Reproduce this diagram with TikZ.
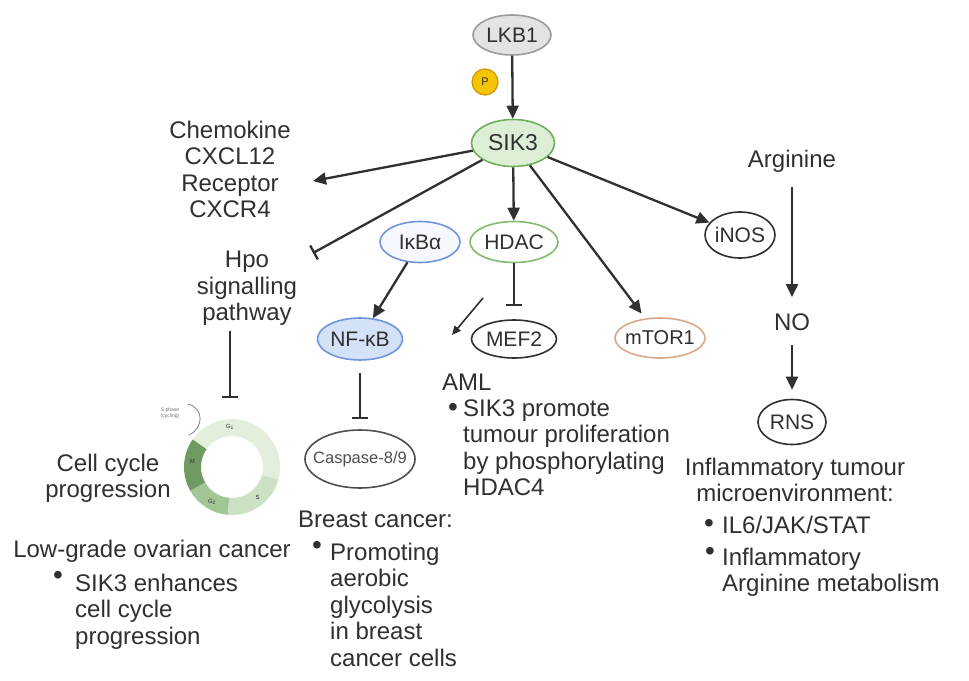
\documentclass[tikz,border=0pt]{standalone}
\usepackage{fontspec}
\setmainfont{Liberation Sans}
\usetikzlibrary{shapes.geometric,arrows.meta}
\definecolor{txt}{HTML}{303030}
\definecolor{lkbfill}{HTML}{E3E3E3}
\definecolor{lkbline}{HTML}{9A9A9A}
\definecolor{sikfill}{HTML}{DCEFD6}
\definecolor{sikline}{HTML}{6FAE5A}
\definecolor{bluefill}{HTML}{D3E2F6}
\definecolor{blueline}{HTML}{7195DA}
\definecolor{paleblue}{HTML}{F5F8FE}
\definecolor{greenline}{HTML}{82BA6E}
\definecolor{mtorline}{HTML}{D9A888}
\definecolor{pfill}{HTML}{F5C400}
\definecolor{pline}{HTML}{D39400}
\definecolor{gone}{HTML}{E4EEDD}
\definecolor{sphase}{HTML}{CDE1C5}
\definecolor{gtwo}{HTML}{A3C596}
\definecolor{mphase}{HTML}{6F9A61}

\begin{document}
\begin{tikzpicture}[x=1pt,y=-1pt,
	ell/.style={ellipse, draw=txt, line width=1.6pt, inner xsep=-8pt, inner ysep=0pt, text=txt, font=\fontsize{21}{21}\selectfont},
	lbl/.style={inner sep=0pt, text=txt, font=\fontsize{24}{26.5}\selectfont},
	bul/.style={inner sep=0pt, text=txt, font=\fontsize{28}{28}\selectfont},
	act/.style={draw=txt, line width=2.3pt, -{Triangle[length=13pt,width=12pt]}},
	inhib/.style={draw=txt, line width=2.3pt, -{Bar[width=16pt]}},
	phase/.style={text=txt, inner sep=0pt, font=\fontsize{6}{6}\selectfont}]
		%%%%% START %%%%%
		\path[use as bounding box, fill=white] (0,0) rectangle (969,680);
		
		% kinases and targets
		\node[ell, fill=lkbfill, draw=lkbline, minimum width=78pt, minimum height=40pt] (lkb1) at (512,35) {LKB1};
		\node[circle, fill=pfill, draw=pline, line width=1.2pt, minimum size=26pt, inner sep=0pt, text=txt, font=\fontsize{11}{11}\selectfont] (phos) at (485,82) {P};
		\node[ell, fill=sikfill, draw=sikline, minimum width=83pt, minimum height=47pt, font=\fontsize{23}{23}\selectfont] (sik3) at (513,143) {SIK3};
		\node[ell, fill=paleblue, draw=blueline, minimum width=80pt, minimum height=41pt] (ikba) at (420,242) {IκBα};
		\node[ell, fill=white, draw=greenline, minimum width=88pt, minimum height=41pt] (hdac) at (514,242) {HDAC};
		\node[ell, fill=bluefill, draw=blueline, minimum width=85pt, minimum height=42pt] (nfkb) at (360,339) {NF-κB};
		\node[ell, fill=white, minimum width=85pt, minimum height=38pt] (mef2) at (514,339) {MEF2};
		\node[ell, fill=white, draw=mtorline, minimum width=90pt, minimum height=40pt, font=\fontsize{20}{20}\selectfont] (mtor) at (660,338) {mTOR1};
		\node[ell, fill=white, minimum width=70pt, minimum height=46pt] (inos) at (740,235) {iNOS};
		\node[ell, fill=white, minimum width=68pt, minimum height=45pt] (rns) at (792,422) {RNS};
		\node[ell, fill=white, draw=txt!85, minimum width=110pt, minimum height=58pt, text=txt!85, font=\fontsize{16.5}{16.5}\selectfont] (casp) at (360,459) {Caspase-8/9};
		
		% plain labels
		\node[lbl, align=center, anchor=north] (chem) at (230,120.5) {Chemokine\\CXCL12\\Receptor\\CXCR4};
		\node[lbl, align=center, anchor=north] (hpo) at (247,251) {Hpo\\signalling\\pathway};
		\node[lbl, align=center, anchor=north] (cyc) at (108,453.5) {Cell cycle\\progression};
		\node[lbl, anchor=base] (arg) at (792,167) {Arginine};
		\node[lbl, anchor=base] (no) at (792,330) {NO};
		
		% disease notes
		\node[lbl, anchor=base] (ovar) at (152,557) {Low-grade ovarian cancer};
		\node[bul] (ovarb) at (58,578) {\textbullet};
		\node[lbl, align=left, anchor=north west] (ovart) at (75,573.5) {SIK3 enhances\\cell cycle\\progression};
		\node[lbl, anchor=base west] (breast) at (298,527) {Breast cancer:};
		\node[bul] (breastb) at (317,548) {\textbullet};
		\node[lbl, align=left, anchor=north west] (breastt) at (330,542.5) {Promoting\\aerobic\\glycolysis\\in breast\\cancer cells};
		\node[lbl, anchor=base west] (aml) at (442,390) {AML};
		\node[bul] (amlb) at (453,410) {\textbullet};
		\node[lbl, align=left, anchor=north west] (amlt) at (463,399.5) {SIK3 promote\\tumour proliferation\\by phosphorylating\\HDAC4};
		\node[lbl, align=center, anchor=north] (infl) at (795,457.5) {Inflammatory tumour\\microenvironment:};
		\node[bul] (il6b) at (709,526) {\textbullet};
		\node[lbl, anchor=base west] (il6) at (722,533) {IL6/JAK/STAT};
		\node[bul] (argb) at (710,554) {\textbullet};
		\node[lbl, align=left, anchor=north west] (argm) at (722,547.5) {Inflammatory\\Arginine metabolism};
		
		% cell cycle ring
		\begin{scope}[shift={(232,467)}, y=1pt]
			\fill[gone] (-15:48) arc (-15:145:48) -- (145:31) arc (145:-15:31) -- cycle;
			\fill[mphase] (145:48) arc (145:210:48) -- (210:31) arc (210:145:31) -- cycle;
			\fill[gtwo] (210:48) arc (210:265:48) -- (265:31) arc (265:210:31) -- cycle;
			\fill[sphase] (265:48) arc (265:345:48) -- (345:31) arc (345:265:31) -- cycle;
			\node[phase] at (93:40) {G\textsubscript{1}};
			\node[phase] at (310:40) {S};
			\node[phase] at (240:40) {G\textsubscript{2}};
			\node[phase] at (172:40) {M};
		\end{scope}
		\node[text=txt!70, inner sep=0pt, align=center, font=\fontsize{5}{5.5}\selectfont] (sph) at (170,413) {S phase\\(cycling)};
		\draw[txt!60, line width=0.8pt] (188,404) .. controls (204,408) and (204,428) .. (189,435);
		
		% connectors
		\coordinate (chemin) at (313,181);
		\coordinate (hpoin) at (313,253);
		\coordinate (ringtop) at (230,398);
		\coordinate (amlfrom) at (483,298);
		\coordinate (amlto) at (452,335);
		
		\draw[act] (lkb1) -- (sik3);
		\draw[act] (sik3) -- (chemin);
		\draw[inhib] (sik3) -- (hpoin);
		\draw[act] (sik3) -- (hdac);
		\draw[act, shorten >=6pt] (sik3) -- (mtor);
		\draw[act] (sik3) -- (inos);
		\draw[act] (ikba) -- (nfkb);
		\draw[inhib, shorten >=13pt] (hdac) -- (mef2);
		\draw[draw=txt, line width=1.6pt, -{Triangle[length=9pt,width=8pt]}] (amlfrom) -- (amlto);
		\draw[inhib, shorten <=12pt, shorten >=10pt] (nfkb) -- (casp);
		\draw[inhib, shorten <=5pt] (hpo.south -| ringtop) -- (ringtop);
		\draw[act, shorten <=15pt, shorten >=16pt] (arg) -- (no);
		\draw[act, shorten <=15pt, shorten >=9pt] (no) -- (rns);
		%%%%% END %%%%%
	\end{tikzpicture}
\end{document}
